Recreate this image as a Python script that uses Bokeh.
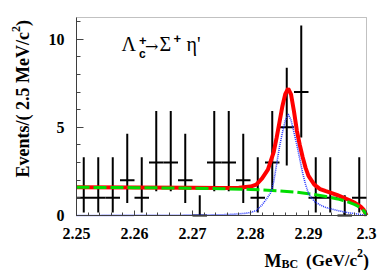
import math
from bokeh.plotting import figure
from bokeh.models import Range1d, FixedTicker, Label, ColumnDataSource, LinearAxis, BoxAnnotation
from bokeh.embed import file_html
from bokeh.resources import INLINE

# ---- data ----
bin_centers = [2.25125, 2.25375, 2.25625, 2.25875, 2.26125, 2.26375, 2.26625, 2.26875,
               2.27125, 2.27375, 2.27625, 2.27875, 2.28125, 2.28375, 2.28625, 2.28875,
               2.29125, 2.29375, 2.29625, 2.29875]
bin_half = 0.00125
counts = [1, 1, 1, 2, 1, 3, 3, 2, 0, 3, 3, 2, 1, 3, 5, 7, 1, 1, 0, 1]
err_lo = [0.83, 0.83, 0.83, 1.29, 0.83, 1.63, 1.63, 1.29, 0.0, 1.63,
          1.63, 1.29, 0.83, 1.63, 2.16, 2.58, 0.83, 0.83, 0.0, 0.83]
err_hi = [2.30, 2.30, 2.30, 2.64, 2.30, 2.92, 2.92, 2.64, 1.15, 2.92,
          2.92, 2.64, 2.30, 2.92, 3.38, 3.77, 2.30, 2.30, 1.15, 2.30]

bkg_x = [2.250, 2.260, 2.270, 2.275, 2.280, 2.285, 2.288, 2.290, 2.292, 2.293, 2.294,
         2.295, 2.296, 2.297, 2.298, 2.2985, 2.299, 2.2995, 2.300]
bkg_y = [1.60, 1.58, 1.55, 1.52, 1.48, 1.40, 1.32, 1.24, 1.14, 1.08, 1.01,
         0.94, 0.85, 0.75, 0.62, 0.53, 0.42, 0.28, 0.0]

sig_x = [2.250, 2.260, 2.270, 2.275, 2.277, 2.279, 2.280, 2.281, 2.282, 2.283, 2.2835,
         2.284, 2.2845, 2.285, 2.2855, 2.286, 2.2865, 2.287, 2.2875, 2.288, 2.2885,
         2.289, 2.2895, 2.290, 2.291, 2.292, 2.293, 2.295, 2.297, 2.299, 2.300]
sig_y = [0.0, 0.01, 0.02, 0.04, 0.07, 0.12, 0.17, 0.28, 0.6, 1.05, 1.3,
         1.9, 2.9, 3.9, 4.7, 5.4, 5.75, 5.4, 4.7, 4.0, 3.2,
         2.4, 1.75, 1.25, 0.8, 0.6, 0.45, 0.28, 0.15, 0.06, 0.0]

tot_x = [2.250, 2.260, 2.270, 2.275, 2.278, 2.280, 2.281, 2.282, 2.283, 2.2835, 2.284,
         2.2845, 2.285, 2.2855, 2.286, 2.2865, 2.287, 2.2875, 2.288, 2.2885, 2.289,
         2.2895, 2.290, 2.291, 2.292, 2.293, 2.294, 2.295, 2.296, 2.297, 2.298,
         2.299, 2.2995, 2.300]
tot_y = [1.60, 1.59, 1.57, 1.56, 1.57, 1.64, 1.75, 2.1, 2.6, 3.1, 3.6,
         4.4, 5.3, 6.2, 6.9, 7.2, 6.85, 5.9, 4.8, 4.0, 3.3,
         2.7, 2.25, 1.75, 1.5, 1.38, 1.27, 1.15, 1.02, 0.88, 0.72,
         0.5, 0.33, 0.0]

x_min, x_max = 2.25, 2.30
y_min, y_max = 0.0, 11.23
x_ticks = [2.25, 2.26, 2.27, 2.28, 2.29, 2.30]
x_tick_labels = ["2.25", "2.26", "2.27", "2.28", "2.29", "2.3"]
x_minor = [2.252, 2.254, 2.256, 2.258, 2.262, 2.264, 2.266, 2.268, 2.272, 2.274, 2.276, 2.278,
           2.282, 2.284, 2.286, 2.288, 2.292, 2.294, 2.296, 2.298]
y_ticks = [0, 5, 10]
y_minor = [1, 2, 3, 4, 6, 7, 8, 9, 11]

FONT = "Liberation Serif"

# ---- layout (pixels) ----
W, H = 380, 270
FL, FR, FT, FB = 76, 366, 17, 215   # plot box edges on the canvas
dx = (x_max - x_min) / (FR - FL)
dy = (y_max - y_min) / (FB - FT)

p = figure(frame_width=W, frame_height=H, output_backend="svg", toolbar_location=None,
           x_range=Range1d(x_min - FL * dx, x_max + (W - FR) * dx),
           y_range=Range1d(y_min - (H - FB) * dy, y_max + FT * dy),
           x_axis_location=None, y_axis_location=None,
           min_border=0, min_border_left=0, min_border_right=0,
           min_border_top=0, min_border_bottom=0)
p.grid.visible = False
p.background_fill_color = "white"
p.border_fill_color = "white"
p.outline_line_color = None

xax = LinearAxis(fixed_location=y_min, bounds=(x_min, x_max))
yax = LinearAxis(fixed_location=x_min, bounds=(y_min, y_max))
for ax in (xax, yax):
    ax.axis_line_color = "#444444"
    ax.major_tick_line_color = "#444444"
    ax.minor_tick_line_color = "#444444"
    ax.major_tick_out = 0
    ax.minor_tick_out = 0
    ax.major_label_text_font = FONT
    ax.major_label_text_font_style = "bold"
    ax.major_label_text_font_size = "16px"
    ax.major_label_text_color = "black"

xax.ticker = FixedTicker(ticks=x_ticks, minor_ticks=x_minor)
xax.major_label_overrides = {v: s for v, s in zip(x_ticks, x_tick_labels)}
xax.major_tick_in = 5
xax.minor_tick_in = 3
xax.major_label_standoff = 12

yax.ticker = FixedTicker(ticks=y_ticks, minor_ticks=y_minor)
yax.major_tick_in = 7
yax.minor_tick_in = 4
yax.major_label_standoff = 12

p.add_layout(xax, "below")
p.add_layout(yax, "left")

p.add_layout(BoxAnnotation(left=x_min, right=x_max, bottom=y_min, top=y_max,
                           fill_alpha=0, fill_color=None,
                           line_color="#333333", line_width=1))

# data points with error bars
src = ColumnDataSource(dict(
    xc=bin_centers,
    xl=[c - bin_half for c in bin_centers],
    xr=[c + bin_half for c in bin_centers],
    n=counts,
    ylo=[n - e for n, e in zip(counts, err_lo)],
    yhi=[n + e for n, e in zip(counts, err_hi)],
))
p.segment(x0="xc", y0="ylo", x1="xc", y1="yhi", source=src, line_color="black", line_width=2)
p.segment(x0="xl", y0="n", x1="xr", y1="n", source=src, line_color="black", line_width=2)

# fit curves
p.line(tot_x, tot_y, line_color="#ff0000", line_width=4)
p.line(bkg_x, bkg_y, line_color="#00dd00", line_width=3, line_dash="13 4")
p.line(sig_x, sig_y, line_color="#2233ff", line_width=1.6, line_dash="1 1")

def lab(text, X, Y, size, font=FONT, style="normal", angle=0.0):
    # X, Y: canvas pixels from the top-left; Y is the text baseline
    p.add_layout(Label(text=text, x=X, y=H - Y, x_units="screen", y_units="screen",
                       text_font=font, text_font_size=size, text_font_style=style,
                       text_color="black", text_align="left", text_baseline="alphabetic",
                       angle=angle))

# decay label
lab("Λ", 121, 43, "20px")
lab("c", 138.5, 53, "12px", font="Liberation Sans", style="bold")
lab("+", 138.5, 39.5, "13px", font="Liberation Sans", style="bold")
lab("→", 144.5, 45.5, "16px", font="DejaVu Serif")
lab("Σ", 159, 43, "20px")
lab("+", 173, 37.5, "13px", font="Liberation Sans", style="bold")
lab("η'", 186, 43, "20px")

# x axis title
lab("M", 264, 260, "18px", style="bold")
lab("BC", 281, 263, "12px", style="bold")
lab("(GeV/c", 305.5, 260, "17px", style="bold")
lab("2", 356.5, 252.5, "12px", style="bold")
lab(")", 362.5, 260, "18px", style="bold")

# y axis title
a = math.pi / 2
lab("Events/( 2.5 MeV/c", 22, 177, "18px", style="bold", angle=a)
lab("2", 15, 31.5, "12px", style="bold", angle=a)
lab(")", 22, 25.5, "18px", style="bold", angle=a)

open("out.html", "w").write(file_html(p, INLINE))
